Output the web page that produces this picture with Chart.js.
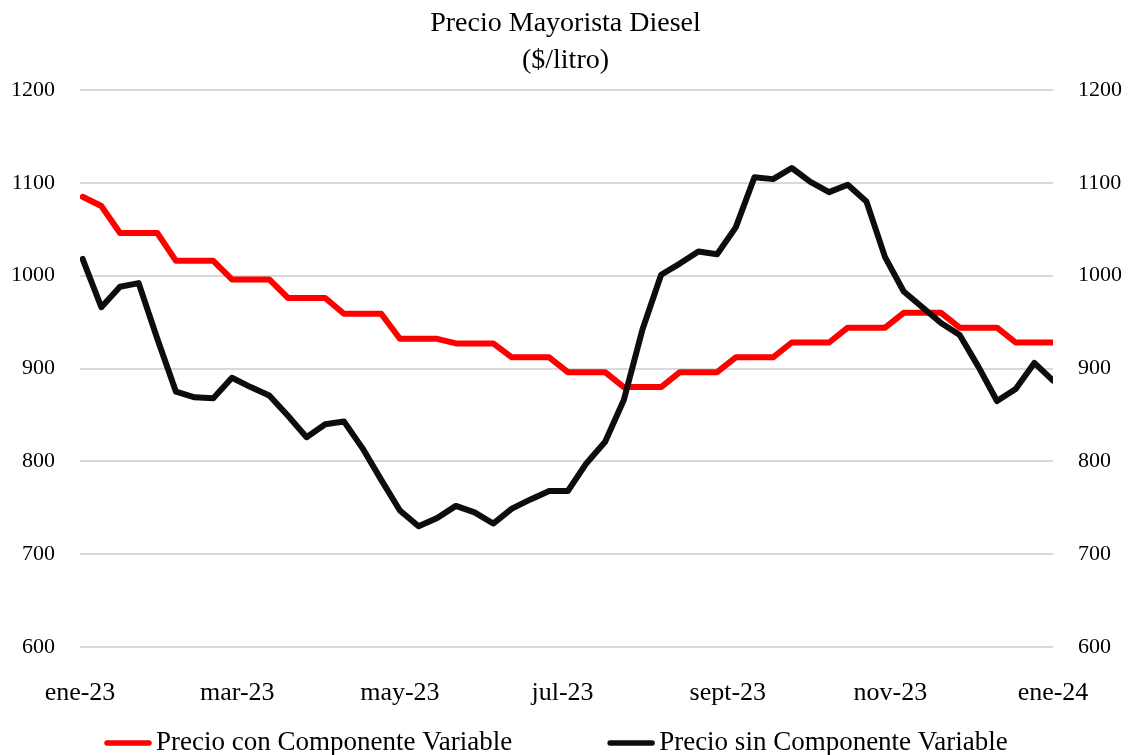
<!DOCTYPE html>
<html>
<head>
<meta charset="utf-8">
<title>Precio Mayorista Diesel</title>
<script src="https://cdn.jsdelivr.net/npm/chart.js@4.4.0/dist/chart.umd.min.js"></script>
<style>
  html, body { margin: 0; padding: 0; background: #fff; }
  #wrap { width: 1131px; height: 755px; position: relative; }
</style>
</head>
<body>
<div id="wrap"><canvas id="chart"></canvas></div>
<script>
// semanas (lunes)
const fechas = [
  '2023-01-02','2023-01-09','2023-01-16','2023-01-23','2023-01-30',
  '2023-02-06','2023-02-13','2023-02-20','2023-02-27',
  '2023-03-06','2023-03-13','2023-03-20','2023-03-27',
  '2023-04-03','2023-04-10','2023-04-17','2023-04-24',
  '2023-05-01','2023-05-08','2023-05-15','2023-05-22','2023-05-29',
  '2023-06-05','2023-06-12','2023-06-19','2023-06-26',
  '2023-07-03','2023-07-10','2023-07-17','2023-07-24','2023-07-31',
  '2023-08-07','2023-08-14','2023-08-21','2023-08-28',
  '2023-09-04','2023-09-11','2023-09-18','2023-09-25',
  '2023-10-02','2023-10-09','2023-10-16','2023-10-23','2023-10-30',
  '2023-11-06','2023-11-13','2023-11-20','2023-11-27',
  '2023-12-04','2023-12-11','2023-12-18','2023-12-25',
  '2024-01-01'
];

// $/litro
const conComponente = [
  1085, 1075, 1046, 1046, 1046, 1016, 1016, 1016, 996, 996,
  996, 976, 976, 976, 959, 959, 959, 932, 932, 932,
  927, 927, 927, 912, 912, 912, 896, 896, 896, 880,
  880, 880, 896, 896, 896, 912, 912, 912, 928, 928,
  928, 944, 944, 944, 960, 960, 960, 944, 944, 944,
  928, 928, 928
];

const sinComponente = [
  1018, 966, 988, 992, 932, 875, 869, 868, 890, 880,
  871, 849, 826, 840, 843, 814, 780, 747, 730, 739,
  752, 745, 733, 749, 759, 768, 768, 798, 821, 866,
  942, 1001, 1013, 1026, 1023, 1052, 1106, 1104, 1116, 1101,
  1090, 1098, 1080, 1020, 983, 966, 949, 936, 902, 865,
  878, 906, 887
];

const tickFechas = ['2023-01-01', '2023-03-01', '2023-05-01', '2023-07-01', '2023-09-01', '2023-11-01', '2024-01-01'];
const tickLabels = ['ene-23', 'mar-23', 'may-23', 'jul-23', 'sept-23', 'nov-23', 'ene-24'];

const yMin = 600;
const yMax = 1200;
const yPaso = 100;

const fuente = "'Liberation Serif', 'Times New Roman', serif";

// dias desde el 1 de enero 2023
function dia(f) {
  return (Date.parse(f) - Date.parse('2023-01-01')) / 86400000;
}

function puntos(valores) {
  return fechas.map((f, i) => ({ x: dia(f), y: valores[i] }));
}

// leyenda abajo, dibujada a mano para respetar los espacios
const leyendaInferior = {
  id: 'leyendaInferior',
  afterDraw(chart) {
    const ctx = chart.ctx;
    ctx.save();
    ctx.font = '27px ' + fuente;
    ctx.textBaseline = 'alphabetic';
    ctx.textAlign = 'left';
    let x = 104;
    chart.data.datasets.forEach(ds => {
      ctx.strokeStyle = ds.borderColor;
      ctx.lineWidth = 5.5;
      ctx.lineCap = 'round';
      ctx.beginPath();
      ctx.moveTo(x + 3, 743);
      ctx.lineTo(x + 45, 743);
      ctx.stroke();
      ctx.fillStyle = '#000';
      ctx.fillText(ds.label, x + 52, 750);
      x += 52 + ctx.measureText(ds.label).width + 95;
    });
    ctx.restore();
  }
};

const ctx = document.getElementById('chart').getContext('2d');
new Chart(ctx, {
  type: 'line',
  data: {
    datasets: [
      {
        label: 'Precio con Componente Variable',
        data: puntos(conComponente),
        borderColor: '#ff0000',
        backgroundColor: '#ff0000',
        borderWidth: 6,
        borderCapStyle: 'round',
        borderJoinStyle: 'round',
        pointRadius: 0,
        tension: 0,
        order: 1
      },
      {
        label: 'Precio sin Componente Variable',
        data: puntos(sinComponente),
        borderColor: '#0d0d0d',
        backgroundColor: '#0d0d0d',
        borderWidth: 6,
        borderCapStyle: 'round',
        borderJoinStyle: 'round',
        pointRadius: 0,
        tension: 0,
        order: 0
      }
    ]
  },
  options: {
    responsive: true,
    maintainAspectRatio: false,
    animation: false,
    devicePixelRatio: 1,
    layout: { padding: 0 },
    plugins: {
      legend: { display: false },
      tooltip: { enabled: false },
      title: {
        display: true,
        text: ['Precio Mayorista Diesel', '($/litro)'],
        color: '#000',
        font: { family: fuente, size: 28, weight: 'normal', lineHeight: 37 / 28 },
        padding: { top: 5, bottom: 11 }
      }
    },
    scales: {
      x: {
        type: 'linear',
        min: 0,
        max: dia('2024-01-01'),
        grid: { display: false },
        border: { display: false },
        afterBuildTicks: axis => {
          axis.ticks = tickFechas.map(f => ({ value: dia(f) }));
        },
        afterFit: s => { s.height = 108; },
        ticks: {
          autoSkip: false,
          maxRotation: 0,
          padding: 23,
          color: '#000',
          font: { family: fuente, size: 26 },
          callback: (v, i) => tickLabels[i]
        }
      },
      y: {
        position: 'left',
        min: yMin,
        max: yMax,
        grid: { color: '#d9d9d9', lineWidth: 2, drawTicks: false },
        border: { display: false },
        afterFit: s => { s.width = 80; },
        ticks: {
          stepSize: yPaso,
          padding: 25,
          color: '#000',
          font: { family: fuente, size: 22 },
          callback: v => String(v)
        }
      },
      y2: {
        position: 'right',
        min: yMin,
        max: yMax,
        grid: { display: false, drawTicks: false },
        border: { display: false },
        afterFit: s => { s.width = 78; },
        ticks: {
          stepSize: yPaso,
          padding: 25,
          color: '#000',
          font: { family: fuente, size: 22 },
          callback: v => String(v)
        }
      }
    }
  },
  plugins: [leyendaInferior]
});
</script>
</body>
</html>
